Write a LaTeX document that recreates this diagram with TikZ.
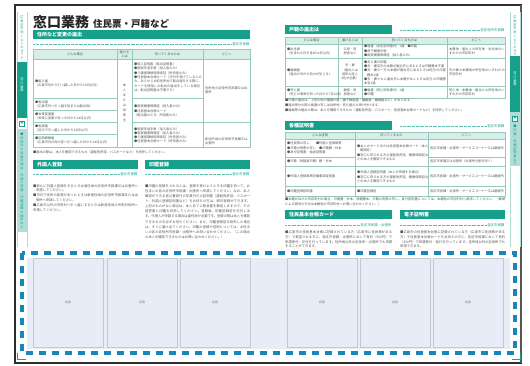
\documentclass[tikz,border=0pt]{standalone}
\usepackage{fontspec}
\setmainfont{Noto Sans CJK JP}
\XeTeXlinebreaklocale "ja"
\XeTeXlinebreakskip=0pt plus 0.3pt
\definecolor{teal1}{RGB}{22,160,140}
\definecolor{lteal}{RGB}{216,238,232}
\definecolor{steal}{RGB}{176,222,214}
\definecolor{tline}{RGB}{150,200,190}
\definecolor{txt}{RGB}{85,85,85}
\definecolor{adbg}{RGB}{231,236,246}
\definecolor{adline}{RGB}{196,200,210}
\definecolor{dblue}{RGB}{26,134,182}
\definecolor{framec}{RGB}{45,45,45}
\newcommand\tf{\fontsize{3.2}{4.3}\selectfont}
\newcommand\itm{\par\hangindent=0.9em\hangafter=1\noindent}
\tikzset{
 barfill/.style={fill=teal1},
 bartext/.style={anchor=west, text=white, font=\fontsize{5}{6}\selectfont\bfseries, inner sep=0},
 dots/.style={draw=teal1!70, dash pattern=on 0.4pt off 0.9pt, line width=0.35pt},
 lbl/.style={anchor=east, text=teal1, font=\fontsize{3.4}{4}\selectfont, inner sep=0.5pt, fill=white},
 tl/.style={draw=tline, line width=0.4pt},
 cell/.style={anchor=west, font=\tf, text=txt, inner sep=0, align=left},
 cellc/.style={anchor=center, font=\tf, text=txt, inner sep=0, align=center},
 celltop/.style={anchor=north west, font=\tf, text=txt, inner sep=0, align=left},
 para/.style={anchor=north west, font=\fontsize{3.3}{4.6}\selectfont, text=txt, inner sep=0, align=justify},
 note/.style={anchor=west, font=\fontsize{3.2}{4.3}\selectfont, text=txt, inner sep=0},
 vside/.style={anchor=north, font=\fontsize{3.2}{3.7}\selectfont, inner sep=0, align=center},
 adbox/.style={draw=adline, line width=0.7pt, fill=adbg},
 adtext/.style={font=\fontsize{3}{3.5}\selectfont, text=black!60, inner sep=0},
 corner/.style={draw=teal1, line width=0.8pt},
}
\begin{document}
\begin{tikzpicture}[x=1pt,y=-1pt]
\useasboundingbox (0,0) rectangle (530,365);
\fill[white] (0,0) rectangle (530,365);
% frame
\draw[framec, line width=1.1pt] (15,5) rectangle (521,363);
\draw[framec!80, line width=2.2pt] (521,5) -- (521,363);
% ---------------- sidebars
\draw[steal, line width=0.6pt] (17,12) -- (17,247) (27,12) -- (27,247);
\node[vside, text=teal1] (sl1) at (22,16) {広\\島\\市\\市\\民\\く\\ら\\し\\の\\ガ\\イ\\ド};
\fill[teal1] (17,62) rectangle (27,118);
\node[vside, text=white] (sl2) at (22,78) {窓\\口\\業\\務};
\draw[teal1, line width=0.5pt, fill=white] (19.5,121) rectangle (24.5,126);
\node[inner sep=0, font=\fontsize{2.5}{3}\selectfont, text=teal1] (sl3) at (22,123.5) {▼};
\fill[steal] (17,129) rectangle (27,232);
\node[vside, text=teal1] (sl4) at (22,133) {●\\住\\所\\な\\ど\\変\\更\\の\\届\\出\\・\\外\\国\\人\\登\\録\\・\\印\\鑑\\登\\録\\の\\届\\出\\な\\ど};
\draw[steal, line width=0.6pt] (510,12) -- (510,247) (520,12) -- (520,247);
\node[vside, text=teal1] (sr1) at (515,16) {広\\島\\市\\市\\民\\く\\ら\\し\\の\\ガ\\イ\\ド};
\fill[teal1] (510,56) rectangle (520,112);
\node[vside, text=white] (sr2) at (515,72) {窓\\口\\業\\務};
\fill[steal] (510,112) rectangle (520,166);
\draw[teal1, line width=0.5pt, fill=white] (512.5,116) rectangle (517.5,121);
\node[inner sep=0, font=\fontsize{2.5}{3}\selectfont, text=teal1] (sr3) at (515,118.5) {▼};
\node[vside, text=teal1] (sr4) at (515,125) {●\\戸\\籍\\・\\各\\種\\証\\明\\書\\な\\ど};
% ---------------- left page title
\node[anchor=base west, inner sep=0, font=\fontsize{14}{14}\selectfont\bfseries, text=black!85] (t1) at (33,27.5) {窓口業務};
\node[anchor=base west, inner sep=0, font=\fontsize{9.5}{10}\selectfont\bfseries, text=black!85] (t2) at (93,27.5) {住民票・戸籍など};
% section 1
\fill[barfill] (33,30) rectangle (250,39);
\node[bartext] (b1) at (37,34.5) {住所など変更の届出};
\node[lbl] (l1) at (250,44) {各区市民課};
\draw[dots] (33,44) -- (l1.west);
% table 1
\fill[lteal] (33,49) rectangle (250,59);
\draw[tl] (33,49) rectangle (250,147);
\draw[tl] (33,59) -- (250,59);
\draw[tl] (117,49) -- (117,147) (132,49) -- (132,147) (203,49) -- (203,147);
\draw[tl] (33,98) -- (117,98) (33,110) -- (117,110) (33,122) -- (117,122) (33,134) -- (117,134);
\draw[tl] (132,98) -- (203,98) (132,122) -- (203,122) (203,122) -- (250,122);
\node[cellc] (h11) at (75,54) {どんな場合};
\node[cellc] (h12) at (124.5,54) {届ける\\人は};
\node[cellc] (h13) at (167.5,54) {持ってくるものは};
\node[cellc] (h14) at (226.5,54) {どこへ};
\node[cell] (r11) at (35,83) {●転入届\\（広島市外から引っ越した日から14日以内）};
\node[cell] (r12) at (35,104) {●転出届\\（広島市外へ引っ越す前または転出後）};
\node[cell] (r13) at (35,116) {●世帯変更届\\（世帯に変更があった日から14日以内）};
\node[cell] (r14) at (35,128) {●転居届\\（区内で引っ越した日から14日以内）};
\node[cell] (r15) at (35,140.5) {●区間異動届\\（広島市内の他の区へ引っ越した日から14日以内）};
\node[cellc, font=\fontsize{3.2}{5}\selectfont] (r1v) at (124.5,103) {本\\人\\ま\\た\\は\\世\\帯\\主};
\node[celltop, text width=68pt] (c11) at (134,61) {\itm●転入証明書（転出証明書）\itm●国民年金手帳（加入者のみ）\itm●介護保険被保険者証（所持者のみ）\itm●住民基本台帳カード（交付を受けている人のみ。あらかじめ前住所地で転出届をする際に、カードを使用した転出の届出をしている場合は、転出証明書は不要です）};
\node[cell, text width=68pt] (c12) at (134,110) {\itm●国民健康保険証（加入者のみ）\itm●住民基本台帳カード\\（転出届のとき、所持者のみ）};
\node[cell, text width=68pt] (c13) at (134,134.5) {\itm●国民年金手帳（加入者のみ）\itm●国民健康保険証（加入者のみ）\itm●介護保険被保険者証（所持者のみ）\itm●住民基本台帳カード（所持者のみ）};
\node[cell, text width=44pt] (c14) at (205,90.5) {住所地の区役所市民課又は出張所};
\node[cell, text width=44pt] (c15) at (205,141) {新住所地の区役所市民課又は出張所};
\node[note] (n11) at (33,152) {■届出の際は、本人を確認できるもの（運転免許証、パスポートなど）を持参してください。};
% section 2 / 3 left
\fill[barfill] (33,160) rectangle (138,169);
\node[bartext] (b2) at (37,164.5) {外国人登録};
\fill[barfill] (145,160) rectangle (250,169);
\node[bartext] (b3) at (149,164.5) {印鑑登録};
\node[lbl] (l2) at (138,174) {各区市民課};
\draw[dots] (33,174) -- (l2.west);
\node[lbl] (l3) at (250,174) {各区市民課};
\draw[dots] (145,174) -- (l3.west);
\node[para, text width=105pt, font=\fontsize{3.3}{4.8}\selectfont] (p1) at (33,182) {\itm■新たに外国人登録をするときは居住地の区役所市民課又は出張所へ申請してください。\itm■市内で住所の変更があったときは新居住地の区役所市民課または出張所へ申請してください。\itm■広島市以外の市町村へ引っ越しするときは新居住地の市町村役所へ申請してください。};
\node[para, text width=105pt, font=\fontsize{3.3}{5.1}\selectfont] (p2) at (145,182) {\itm■印鑑の登録をされる人は、登録を受けようとする印鑑を持って、お住まいの区の区役所市民課・出張所へ申請してください。なお、本人確認ができる官公署発行の写真付きの証明書（運転免許証、パスポート、外国人登録証明書など）をお持ちの方は、即日登録ができます。上記のものがない場合は、本人あてに照会書を郵送しますので、その回答書と印鑑を持参してください。登録後、印鑑登録証を交付します。代理人が申請する場合は委任状が必要です。登録の際は本人を確認できるものを必ずお持ちください。また、印鑑登録証を紛失した場合は、すぐに届け出てください。印鑑の登録や証明については、お住まいの区の区役所市民課・出張所へお問い合わせください。（この場合の本人を確認できるものはお問い合わせください。）};
% ---------------- right page
\fill[barfill] (285,25) rectangle (392,34);
\node[bartext] (b4) at (289,29.5) {戸籍の届出は};
\node[lbl] (l4) at (505,30) {各区役所市民課};
\draw[dots] (400,30) -- (l4.west);
\fill[lteal] (285,37) rectangle (505,44);
\draw[tl] (285,37) rectangle (505,98);
\draw[tl] (285,44) -- (505,44) (285,58) -- (505,58) (285,86) -- (505,86);
\draw[tl] (338,37) -- (338,98) (362,37) -- (362,98) (447,37) -- (447,98);
\node[cellc] (h21) at (311.5,40.5) {どんな場合};
\node[cellc] (h22) at (350,40.5) {届ける人は};
\node[cellc] (h23) at (404.5,40.5) {持ってくるものは};
\node[cellc] (h24) at (476,40.5) {どこへ};
\node[cell] (r21) at (287,51) {●出生届\\（生まれた日を含め14日以内）};
\node[cell] (r22) at (287,72) {●婚姻届\\（届出の日から効力が生じる）};
\node[cell] (r23) at (287,92) {●死亡届\\（死亡の事実を知った日から7日以内）};
\node[cellc] (r24) at (350,51) {父母・同\\居者など};
\node[cellc] (r25) at (350,72) {夫・妻\\（届出人は\\成年の証人\\2名が必要）};
\node[cellc] (r26) at (350,92) {親族・同\\居者など};
\node[cell, text width=83pt] (r27) at (364,51) {●届書（出生証明書付）1通　●印鑑\\●母子健康手帳\\●国民健康保険証（加入者のみ）};
\node[cell, text width=83pt] (r28) at (364,72) {\itm●夫と妻の印鑑\itm●夫・妻双方の本籍が届出先にあるときは戸籍謄本不要\itm●夫・妻の一方の本籍が届出先にあるときは他方の戸籍謄本1通\itm●夫・妻ともに届出先に本籍がないときは双方の戸籍謄本各1通};
\node[cell, text width=83pt] (r29) at (364,92) {●届書（死亡診断書付）1通\\●印鑑};
\node[cell, text width=57pt] (r2a) at (449,51) {本籍地・届出人の所在地・出生地のいずれかの市区町村};
\node[cell, text width=57pt] (r2b) at (449,72) {夫か妻の本籍地か所在地のいずれかの市区町村};
\node[cell, text width=57pt] (r2c) at (449,92) {死亡地・本籍地・届出人の所在地のいずれかの市区町村};
\node[note] (n21) at (285,100.5) {■戸籍の届出は、上記の他の種類の届（養子縁組届・離婚届・離縁届など）があります。};
\node[note] (n22) at (285,105.5) {■届出受付の際の届書の写しは住所地・死亡届のみ受け付けます。};
\node[note] (n23) at (285,110.5) {■婚姻等の届出の際は、本人を確認できるもの（運転免許証、パスポート、住民基本台帳カードなど）を持参してください。};
% 各種証明書
\fill[barfill] (285,121) rectangle (392,130);
\node[bartext] (b5) at (289,125.5) {各種証明書};
\node[lbl] (l5) at (505,126) {各区市民課};
\draw[dots] (400,126) -- (l5.west);
\fill[lteal] (285,132) rectangle (505,139);
\draw[tl] (285,132) rectangle (505,196);
\draw[tl] (285,139) -- (505,139) (285,157) -- (355,157) (428,157) -- (505,157) (285,166) -- (505,166) (285,186) -- (505,186);
\draw[tl] (355,132) -- (355,196) (428,132) -- (428,196);
\node[cellc] (h31) at (320,135.5) {どんな証明};
\node[cellc] (h32) at (391.5,135.5) {持ってくるもの};
\node[cellc] (h33) at (466.5,135.5) {どこへ};
\node[cell] (r31) at (287,148) {●住民票の写し　　●外国人登録原票\\●戸籍の附票の写し　●戸籍謄・抄本\\●身分証明書・独身証明書};
\node[cell] (r32) at (287,161.5) {●戸籍（改製原戸籍）謄・抄本};
\node[cell] (r33) at (287,176) {●外国人登録原票記載事項証明書};
\node[cell] (r34) at (287,191) {●印鑑登録証明書};
\node[cell, text width=72pt] (r35) at (357,152) {\itm●本人のカードまたは住民基本台帳カード（本人確認用）\itm●窓口に来られる方の運転免許証、健康保険証などの本人を確認できるもの};
\node[cell, text width=72pt] (r36) at (357,176) {\itm●外国人登録証明書（本人が申請する場合）\itm●窓口に来られる方の運転免許証、健康保険証などの本人を確認できるもの};
\node[cell] (r37) at (357,191) {●印鑑登録証};
\node[cell, text width=75pt] (r38) at (430,148) {各区市民課・出張所・サービスコーナー又は連絡所};
\node[cell, text width=75pt] (r39) at (430,161.5) {各区市民課又は出張所（出張所分室を除く）};
\node[cell, text width=75pt] (r3a) at (430,176) {各区市民課・出張所・サービスコーナー又は連絡所};
\node[cell, text width=75pt] (r3b) at (430,191) {各区市民課・出張所・サービスコーナー又は連絡所};
\node[para, font=\fontsize{3.2}{4.6}\selectfont, text width=220pt] (n31) at (285,198) {■本籍がほかの市区町村の場合、戸籍謄・抄本、除籍謄本、戸籍の附票の写し、身分証明書については、本籍地の市区町村へ請求してください。（郵便による請求の方法は本籍地の市区町村へお問い合わせください。）};
% 住民基本台帳カード / 電子証明書
\fill[barfill] (285,210) rectangle (392,219);
\node[bartext] (b6) at (289,214.5) {住民基本台帳カード};
\fill[barfill] (400,210) rectangle (505,219);
\node[bartext] (b7) at (404,214.5) {電子証明書};
\node[lbl] (l6) at (392,225) {各区市民課・出張所};
\draw[dots] (285,225) -- (l6.west);
\node[lbl] (l7) at (505,225) {各区市民課};
\draw[dots] (400,225) -- (l7.west);
\node[para, text width=107pt] (p3) at (285,229) {\itm■広島市の住民基本台帳に記録されている方（広島市に住民票がある方）で希望される方に、各区市民課・出張所において有料（500円）で申請受付・交付を行っています。住所地以外の区役所・出張所でも申請することができます。};
\node[para, text width=105pt] (p4) at (400,229) {\itm■広島市の住民基本台帳に記録されている方（広島市に住民票がある方）で住民基本台帳カードをお持ちの方に、各区市民課において有料（500円）で申請受付・発行を行っています。住所地以外の区役所でも申請できます。};
% ---------------- advert area
\fill[white] (20,251) rectangle (517,355);
\fill[adbg] (27,258) rectangle (510,349);
\draw[adbox] (33,258) rectangle (103,347);
\draw[adbox] (107,258) rectangle (177,347);
\draw[adbox] (180,258) rectangle (250,347);
\draw[adbox] (287,258) rectangle (357,347);
\draw[adbox] (360,258) rectangle (430,347);
\draw[adbox] (433,258) rectangle (503,347);
\node[adtext] (ad1) at (68,302) {広告};
\node[adtext] (ad2) at (142,302) {広告};
\node[adtext] (ad3) at (215,302) {広告};
\node[adtext] (ad4) at (322,302) {広告};
\node[adtext] (ad5) at (395,302) {広告};
\node[adtext] (ad6) at (468,302) {広告};
\draw[dblue, line width=4.5pt, dash pattern=on 7pt off 6pt] (22,253) rectangle (515,353);
% corner marks
\draw[corner] (17,353) -- (17,359) -- (26,359);
\draw[corner] (512,359) -- (520,359) -- (520,353);
\end{tikzpicture}
\end{document}
